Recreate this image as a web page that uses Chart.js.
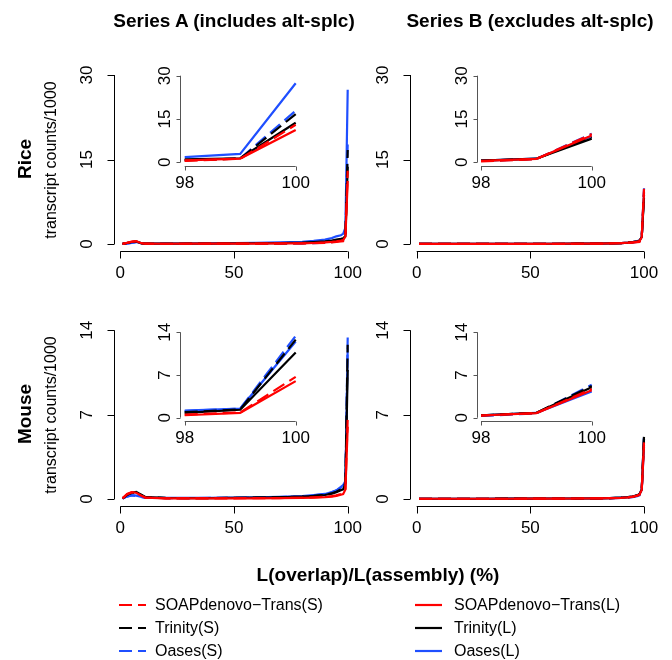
<!DOCTYPE html>
<html>
<head>
<meta charset="utf-8">
<script src="https://cdn.jsdelivr.net/npm/chart.js@4.4.1/dist/chart.umd.min.js"></script>
<style>
body { margin: 0; background: #fff; }
#fig { position: relative; width: 672px; height: 660px; font-family: "Liberation Sans", Arial, sans-serif; color: #000; overflow: hidden; }
#fig canvas { position: absolute; left: 0; top: 0; }
.t { position: absolute; white-space: nowrap; line-height: 1; }
.bold { font-weight: bold; font-size: 19px; }
.ctr { transform: translate(-50%, -50%); }
.rot { transform: translate(-50%, -50%) rotate(-90deg); }
.ylab { font-size: 16px; }
.leg { font-size: 16px; transform: translateY(-50%); }
.sw { position: absolute; }
</style>
</head>
<body>
<div id="fig">
  <canvas id="mainRiceA" width="672" height="660"></canvas>
  <canvas id="mainRiceB" width="672" height="660"></canvas>
  <canvas id="mainMouseA" width="672" height="660"></canvas>
  <canvas id="mainMouseB" width="672" height="660"></canvas>
  <canvas id="insetRiceA" width="672" height="660"></canvas>
  <canvas id="insetRiceB" width="672" height="660"></canvas>
  <canvas id="insetMouseA" width="672" height="660"></canvas>
  <canvas id="insetMouseB" width="672" height="660"></canvas>

  <div class="t bold ctr" style="left:234px;top:20px">Series A (includes alt-splc)</div>
  <div class="t bold ctr" style="left:530px;top:20px">Series B (excludes alt-splc)</div>
  <div class="t bold rot" style="left:24px;top:159px">Rice</div>
  <div class="t ylab rot" style="left:51px;top:160px">transcript counts/1000</div>
  <div class="t bold rot" style="left:24px;top:414px">Mouse</div>
  <div class="t ylab rot" style="left:51px;top:415px">transcript counts/1000</div>
  <div class="t bold ctr" style="left:378px;top:574px">L(overlap)/L(assembly) (%)</div>
  <div id="legend"></div>
</div>
<script>
// x positions (% overlap) shared by every series
const overlapPct = [1, 3, 5, 7, 9, 11, 20, 30, 40, 50, 60, 70, 80, 85, 90, 93, 95, 97, 98, 99, 100];

// Rice, series A (includes alt-splc)
const riceA_soapS  = [0.02, 0.20, 0.40, 0.45, 0.15, 0.05, 0.04, 0.04, 0.05, 0.06, 0.07, 0.08, 0.10, 0.14, 0.20, 0.28, 0.35, 0.45, 0.50, 1.20, 13.0];
const riceA_trinS  = [0.02, 0.18, 0.35, 0.42, 0.15, 0.05, 0.04, 0.05, 0.06, 0.07, 0.09, 0.11, 0.15, 0.22, 0.32, 0.42, 0.55, 0.65, 0.70, 1.30, 16.7];
const riceA_oasesS = [0.01, 0.08, 0.20, 0.30, 0.12, 0.04, 0.04, 0.04, 0.05, 0.06, 0.07, 0.09, 0.12, 0.16, 0.24, 0.32, 0.45, 0.65, 0.80, 1.30, 17.9];
const riceA_soapL  = [0.02, 0.22, 0.42, 0.50, 0.18, 0.05, 0.04, 0.05, 0.06, 0.07, 0.08, 0.10, 0.12, 0.18, 0.28, 0.38, 0.47, 0.60, 0.70, 1.30, 11.2];
const riceA_trinL  = [0.02, 0.18, 0.36, 0.45, 0.16, 0.05, 0.05, 0.06, 0.08, 0.10, 0.13, 0.17, 0.25, 0.34, 0.47, 0.62, 0.77, 0.90, 1.00, 1.40, 13.7];
const riceA_oasesL = [0.01, 0.10, 0.25, 0.35, 0.15, 0.06, 0.07, 0.09, 0.12, 0.16, 0.20, 0.28, 0.40, 0.55, 0.77, 1.05, 1.36, 1.55, 1.80, 2.90, 27.4];

// Rice, series B (excludes alt-splc)
const riceB_soapS  = [0.01, 0.01, 0.01, 0.01, 0.01, 0.01, 0.01, 0.01, 0.02, 0.02, 0.03, 0.04, 0.06, 0.09, 0.14, 0.20, 0.26, 0.32, 0.35, 1.10, 9.8];
const riceB_trinS  = [0.01, 0.01, 0.01, 0.01, 0.01, 0.01, 0.01, 0.02, 0.02, 0.03, 0.04, 0.05, 0.07, 0.11, 0.17, 0.25, 0.33, 0.45, 0.55, 1.20, 8.7];
const riceB_oasesS = [0.01, 0.01, 0.01, 0.01, 0.01, 0.01, 0.01, 0.01, 0.02, 0.02, 0.03, 0.04, 0.06, 0.09, 0.14, 0.20, 0.27, 0.38, 0.45, 1.15, 9.9];
const riceB_soapL  = [0.01, 0.01, 0.01, 0.01, 0.01, 0.01, 0.01, 0.02, 0.02, 0.03, 0.04, 0.05, 0.07, 0.10, 0.16, 0.23, 0.30, 0.42, 0.50, 1.20, 9.3];
const riceB_trinL  = [0.01, 0.01, 0.01, 0.01, 0.01, 0.01, 0.01, 0.02, 0.02, 0.03, 0.04, 0.05, 0.07, 0.11, 0.17, 0.25, 0.33, 0.48, 0.60, 1.25, 8.2];
const riceB_oasesL = [0.01, 0.01, 0.01, 0.01, 0.01, 0.01, 0.01, 0.02, 0.02, 0.03, 0.04, 0.05, 0.07, 0.11, 0.17, 0.25, 0.34, 0.50, 0.60, 1.25, 9.0];

// Mouse, series A
const mouseA_soapS  = [0.05, 0.40, 0.55, 0.50, 0.30, 0.12, 0.06, 0.05, 0.05, 0.06, 0.07, 0.08, 0.10, 0.13, 0.18, 0.24, 0.30, 0.42, 0.50, 0.85, 6.7];
const mouseA_trinS  = [0.05, 0.35, 0.50, 0.55, 0.35, 0.15, 0.08, 0.07, 0.08, 0.09, 0.11, 0.14, 0.20, 0.26, 0.35, 0.48, 0.60, 0.80, 0.90, 1.35, 12.8];
const mouseA_oasesS = [0.05, 0.20, 0.30, 0.25, 0.18, 0.10, 0.08, 0.08, 0.09, 0.10, 0.13, 0.16, 0.22, 0.30, 0.40, 0.55, 0.70, 0.95, 1.10, 1.50, 13.4];
const mouseA_soapL  = [0.05, 0.42, 0.58, 0.52, 0.30, 0.12, 0.06, 0.05, 0.05, 0.06, 0.06, 0.07, 0.09, 0.11, 0.15, 0.20, 0.26, 0.35, 0.40, 0.80, 6.0];
const mouseA_trinL  = [0.05, 0.35, 0.52, 0.58, 0.38, 0.16, 0.09, 0.08, 0.08, 0.09, 0.11, 0.14, 0.19, 0.25, 0.33, 0.45, 0.56, 0.72, 0.80, 1.30, 10.7];
const mouseA_oasesL = [0.05, 0.22, 0.32, 0.28, 0.20, 0.11, 0.09, 0.09, 0.10, 0.11, 0.14, 0.17, 0.24, 0.32, 0.42, 0.58, 0.72, 1.00, 1.15, 1.50, 12.5];

// Mouse, series B
const mouseB_soapS  = [0.02, 0.02, 0.02, 0.02, 0.02, 0.02, 0.02, 0.02, 0.02, 0.03, 0.03, 0.04, 0.05, 0.07, 0.10, 0.14, 0.18, 0.28, 0.35, 0.75, 4.7];
const mouseB_trinS  = [0.02, 0.02, 0.02, 0.02, 0.02, 0.02, 0.02, 0.02, 0.03, 0.03, 0.04, 0.04, 0.06, 0.08, 0.11, 0.15, 0.20, 0.30, 0.38, 0.80, 5.2];
const mouseB_oasesS = [0.01, 0.01, 0.01, 0.01, 0.01, 0.01, 0.01, 0.02, 0.02, 0.02, 0.03, 0.03, 0.04, 0.06, 0.09, 0.12, 0.16, 0.24, 0.30, 0.70, 5.4];
const mouseB_soapL  = [0.02, 0.02, 0.02, 0.02, 0.02, 0.02, 0.02, 0.02, 0.02, 0.03, 0.03, 0.04, 0.05, 0.07, 0.10, 0.14, 0.19, 0.29, 0.36, 0.75, 4.5];
const mouseB_trinL  = [0.02, 0.02, 0.02, 0.02, 0.02, 0.02, 0.02, 0.02, 0.03, 0.03, 0.04, 0.04, 0.06, 0.08, 0.11, 0.15, 0.20, 0.30, 0.40, 0.80, 5.0];
const mouseB_oasesL = [0.02, 0.02, 0.02, 0.02, 0.02, 0.02, 0.02, 0.02, 0.03, 0.03, 0.04, 0.04, 0.06, 0.08, 0.11, 0.15, 0.21, 0.31, 0.40, 0.78, 4.3];

// tick labels
const xTicksMain = [0, 50, 100];
const xTicksInset = [98, 100];
const yTicksRice = [0, 15, 30];
const yTicksMouse = [0, 7, 14];

const seriesNames = ['SOAPdenovo\u2212Trans(S)', 'Trinity(S)', 'Oases(S)', 'SOAPdenovo\u2212Trans(L)', 'Trinity(L)', 'Oases(L)'];

// ---- styling / layout (not data) ----
const RED = '#ff0000', BLACK = '#000000', BLUE = '#1f4fff';
const DASH = [13, 6];
const W = 672, H = 660;

// pixel anchors: [value0, pixel0, value1, pixel1]
const colA = { main: [0, 120.3, 100, 347.7], inset: [98, 184.7, 100, 295.7] };
const colB = { main: [0, 416.7, 100, 644.0], inset: [98, 481.0, 100, 591.7] };
const rowRice = { main: [0, 244.0, 30, 75.0], inset: [0, 162.3, 30, 75.7] };
const rowMouse = { main: [0, 499.0, 14, 330.3], inset: [0, 417.7, 14, 332.3] };

function span(anchor, lo, hi) {
    const [v0, p0, v1, p1] = anchor;
    const k = (p1 - p0) / (v1 - v0);
    return [p0 + (lo - v0) * k, p0 + (hi - v0) * k];
}

// R-style detached axes, drawn through the chart's own scales
const rAxes = {
    id: 'rAxes',
    afterDraw(chart, args, o) {
        const { ctx, chartArea: a } = chart;
        const sx = chart.scales.x, sy = chart.scales.y;
        ctx.save();
        ctx.strokeStyle = o.axisColor;
        ctx.lineWidth = 1;
        ctx.fillStyle = '#000';
        ctx.font = o.font;

        const yb = Math.round(a.bottom) + 0.5;
        ctx.beginPath();
        ctx.moveTo(sx.getPixelForValue(o.xTicks[0]), yb);
        ctx.lineTo(sx.getPixelForValue(o.xTicks[o.xTicks.length - 1]), yb);
        o.xTicks.forEach(v => {
            const px = Math.round(sx.getPixelForValue(v)) + 0.5;
            ctx.moveTo(px, yb);
            ctx.lineTo(px, yb + o.tick);
        });
        const xl = Math.round(a.left) + 0.5;
        ctx.moveTo(xl, sy.getPixelForValue(o.yTicks[0]));
        ctx.lineTo(xl, sy.getPixelForValue(o.yTicks[o.yTicks.length - 1]));
        o.yTicks.forEach(v => {
            const py = Math.round(sy.getPixelForValue(v)) + 0.5;
            ctx.moveTo(xl, py);
            ctx.lineTo(xl - o.tick, py);
        });
        ctx.stroke();

        ctx.textAlign = 'center';
        ctx.textBaseline = 'middle';
        o.xTicks.forEach(v => {
            ctx.fillText(String(v), sx.getPixelForValue(v), yb + o.xLabelGap);
        });
        o.yTicks.forEach(v => {
            ctx.save();
            ctx.translate(xl - o.yLabelGap, sy.getPixelForValue(v));
            ctx.rotate(-Math.PI / 2);
            ctx.fillText(String(v), 0, 0);
            ctx.restore();
        });
        ctx.restore();
    }
};

function makePanel(id, col, row, values, inset) {
    const xlim = inset ? [97.92, 100.08] : [-2.96, 103.96];
    const yTop = row === rowRice ? 30 : 14;
    const ylim = [-0.04 * yTop, yTop * 1.04];
    const [left, right] = span(inset ? col.inset : col.main, xlim[0], xlim[1]);
    const [bottom, top] = span(inset ? row.inset : row.main, ylim[0], ylim[1]);

    const styles = [
        { c: RED, d: DASH }, { c: BLACK, d: DASH }, { c: BLUE, d: DASH },
        { c: RED, d: [] }, { c: BLACK, d: [] }, { c: BLUE, d: [] }
    ];
    // red drawn on top, blue underneath (first dataset ends up on top)
    const drawOrder = [0, 3, 1, 4, 2, 5];
    const datasets = drawOrder.map(i => ({
        label: seriesNames[i],
        data: overlapPct.map((x, j) => ({ x: x, y: values[i][j] })).filter(p => !inset || p.x >= 98),
        borderColor: styles[i].c,
        borderDash: styles[i].d,
        borderWidth: 2.2,
        pointRadius: 0,
        tension: 0,
        fill: false
    }));

    new Chart(document.getElementById(id), {
        type: 'line',
        data: { datasets },
        options: {
            responsive: false,
            animation: false,
            events: [],
            layout: { padding: { left: left, right: W - right, top: top, bottom: H - bottom } },
            plugins: {
                legend: { display: false },
                tooltip: { enabled: false },
                rAxes: {
                    xTicks: inset ? xTicksInset : xTicksMain,
                    yTicks: row === rowRice ? yTicksRice : yTicksMouse,
                    axisColor: inset ? '#555' : '#000',
                    tick: inset ? 4 : 7,
                    xLabelGap: inset ? 17 : 22,
                    yLabelGap: inset ? 15 : 27,
                    font: '17px "Liberation Sans", Arial, sans-serif'
                }
            },
            scales: {
                x: { type: 'linear', min: xlim[0], max: xlim[1], display: false },
                y: { type: 'linear', min: ylim[0], max: ylim[1], display: false }
            }
        },
        plugins: [rAxes]
    });
}

const riceA = [riceA_soapS, riceA_trinS, riceA_oasesS, riceA_soapL, riceA_trinL, riceA_oasesL];
const riceB = [riceB_soapS, riceB_trinS, riceB_oasesS, riceB_soapL, riceB_trinL, riceB_oasesL];
const mouseA = [mouseA_soapS, mouseA_trinS, mouseA_oasesS, mouseA_soapL, mouseA_trinL, mouseA_oasesL];
const mouseB = [mouseB_soapS, mouseB_trinS, mouseB_oasesS, mouseB_soapL, mouseB_trinL, mouseB_oasesL];

makePanel('mainRiceA', colA, rowRice, riceA, false);
makePanel('mainRiceB', colB, rowRice, riceB, false);
makePanel('mainMouseA', colA, rowMouse, mouseA, false);
makePanel('mainMouseB', colB, rowMouse, mouseB, false);
makePanel('insetRiceA', colA, rowRice, riceA, true);
makePanel('insetRiceB', colB, rowRice, riceB, true);
makePanel('insetMouseA', colA, rowMouse, mouseA, true);
makePanel('insetMouseB', colB, rowMouse, mouseB, true);

// legend: two columns, short-read (S) dashed on the left, long (L) solid on the right
const legendColors = [RED, BLACK, BLUE, RED, BLACK, BLUE];
const leg = document.getElementById('legend');
seriesNames.forEach((name, i) => {
    const left = i < 3;
    const y = [605, 628, 651][i % 3];
    const x0 = left ? 119 : 415;
    const dash = left ? `stroke-dasharray="${DASH.join(' ')}"` : '';
    leg.innerHTML += `<svg class="sw" style="left:${x0}px;top:${y - 3}px" width="27" height="6">
        <line x1="0" y1="3" x2="27" y2="3" stroke="${legendColors[i]}" stroke-width="2.2" ${dash}/></svg>
        <div class="t leg" style="left:${left ? 155 : 454}px;top:${y}px">${name}</div>`;
});
</script>
</body>
</html>
